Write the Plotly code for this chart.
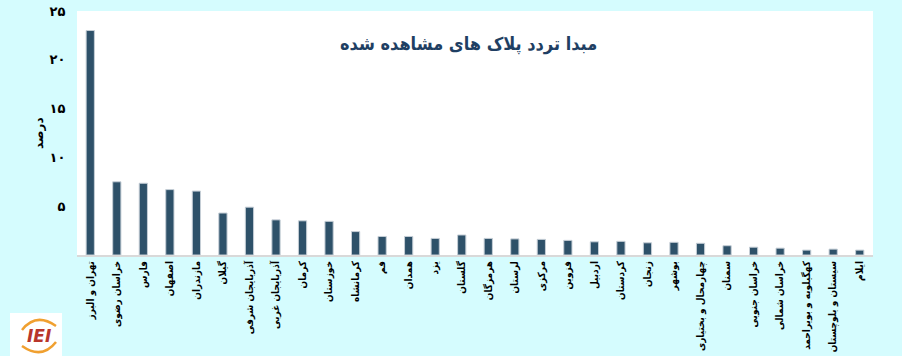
import plotly.graph_objects as go

categories = [
    "تهران و البرز", "خراسان رضوی", "فارس", "اصفهان", "مازندران", "گیلان",
    "آذربایجان شرقی", "آذربایجان غربی", "کرمان", "خوزستان", "کرمانشاه", "قم",
    "همدان", "یزد", "گلستان", "هرمزگان", "لرستان", "مرکزی", "قزوین", "اردبیل",
    "کردستان", "زنجان", "بوشهر", "چهارمحال و بختیاری", "سمنان", "خراسان جنوبی",
    "خراسان شمالی", "کهگیلویه و بویراحمد", "سیستان و بلوچستان", "ایلام",
]
values = [
    23.0, 7.5, 7.35, 6.7, 6.55, 4.3, 4.9, 3.6, 3.5, 3.45, 2.4, 1.9,
    1.9, 1.7, 2.05, 1.7, 1.65, 1.6, 1.5, 1.35, 1.4, 1.25, 1.3, 1.2,
    0.95, 0.8, 0.7, 0.5, 0.6, 0.5,
]
ytick_vals = [5, 10, 15, 20, 25]
ytick_text = ["۵", "۱۰", "۱۵", "۲۰", "۲۵"]
title_text = "مبدا تردد پلاک های مشاهده شده"
ytitle_text = "درصد"

W, H = 902, 356
L, R, T, B = 77, 29, 11, 101
pw, ph = W - L - R, H - T - B

COND = "DejaVu Sans Condensed, DejaVu Sans"


def px(x):
    return (x - L) / pw


def py(y):
    return (H - B - y) / ph


fig = go.Figure(
    go.Bar(
        x=categories,
        y=values,
        marker=dict(color="#2e5169", line=dict(color="#c5ced6", width=1)),
        width=0.31,
    )
)

fig.update_layout(
    width=W,
    height=H,
    margin=dict(l=L, r=R, t=T, b=B),
    paper_bgcolor="#d5fcfe",
    plot_bgcolor="#ffffff",
    showlegend=False,
    font=dict(family="DejaVu Sans", color="#000000"),
)

fig.update_xaxes(
    tickangle=-90,
    tickfont=dict(family=COND, size=10, weight="bold", color="#000000"),
    showline=True,
    linecolor="#d9d9d9",
    linewidth=2,
    ticks="",
    showgrid=False,
    automargin=False,
    range=[-0.5, len(categories) - 0.5],
)

fig.update_yaxes(
    range=[0, 25],
    tickvals=ytick_vals,
    ticktext=ytick_text,
    tickfont=dict(family="DejaVu Sans", size=13, weight="bold", color="#000000"),
    showgrid=False,
    zeroline=False,
    showline=False,
    ticks="outside",
    ticklen=8,
    tickcolor="rgba(0,0,0,0)",
    automargin=False,
)

annotations = [
    dict(
        text=title_text, x=px(468), y=py(44), xref="paper", yref="paper",
        showarrow=False, xanchor="center", yanchor="middle",
        font=dict(family=COND, size=18, weight="bold", color="#1f3f63"),
    ),
    dict(
        text=ytitle_text, x=px(39), y=py(133), xref="paper", yref="paper",
        showarrow=False, xanchor="center", yanchor="middle", textangle=-90,
        font=dict(family="DejaVu Sans", size=12, weight="bold", color="#000000"),
    ),
    dict(
        text="<i>IEI</i>", x=px(39), y=py(336), xref="paper", yref="paper",
        showarrow=False, xanchor="center", yanchor="middle",
        font=dict(family="DejaVu Sans", size=17, weight="bold", color="#b8362b"),
    ),
]

shapes = [
    dict(type="rect", xref="paper", yref="paper",
         x0=px(10), x1=px(62), y0=py(313), y1=py(356),
         fillcolor="#ffffff", line=dict(width=0), layer="above"),
    dict(type="path", xref="paper", yref="paper",
         path=f"M {px(22)},{py(330)} Q {px(36)},{py(312)} {px(56)},{py(326)}",
         line=dict(color="#f0a030", width=2.5), layer="above"),
    dict(type="path", xref="paper", yref="paper",
         path=f"M {px(22)},{py(346)} Q {px(42)},{py(360)} {px(56)},{py(342)}",
         line=dict(color="#f0a030", width=2.5), layer="above"),
]

fig.update_layout(annotations=annotations, shapes=shapes)

fig.write_html("out.html")
